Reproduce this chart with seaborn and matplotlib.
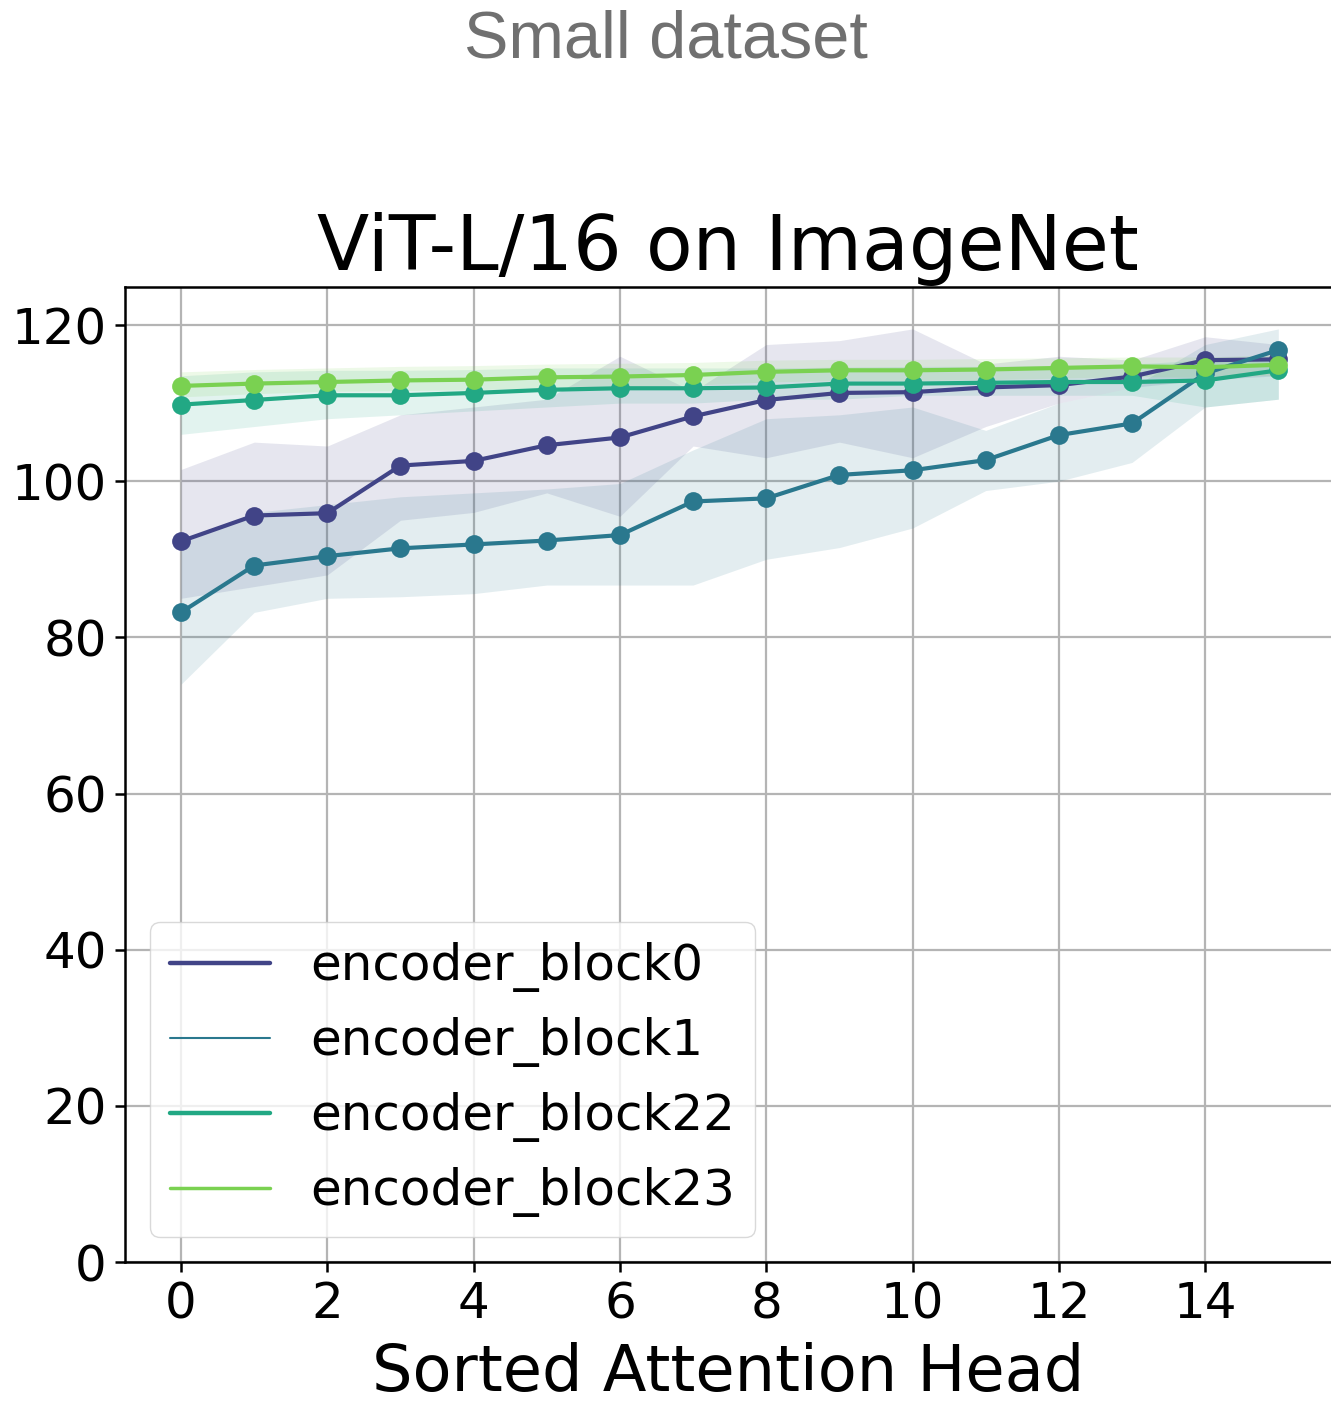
import numpy as np
import pandas as pd
import matplotlib
matplotlib.use("Agg")
import matplotlib.pyplot as plt
from matplotlib.lines import Line2D
import seaborn as sns

heads = list(range(16))
series_names = ["encoder_block0", "encoder_block1", "encoder_block22", "encoder_block23"]

block0_mean = [92.3, 95.6, 95.9, 102.0, 102.6, 104.6, 105.6, 108.3, 110.4, 111.3, 111.4, 112.0, 112.3, 113.4, 115.5, 115.6]
block0_low = [85.0, 86.5, 88.0, 95.0, 96.0, 98.5, 95.5, 104.5, 103.0, 105.0, 103.0, 107.0, 110.0, 112.0, 113.0, 113.5]
block0_high = [101.5, 105.0, 104.5, 108.5, 109.5, 110.5, 116.0, 111.5, 117.5, 118.0, 119.5, 115.0, 116.0, 115.5, 118.5, 117.5]

block1_mean = [83.2, 89.2, 90.4, 91.4, 91.9, 92.4, 93.1, 97.4, 97.8, 100.8, 101.4, 102.7, 105.9, 107.4, 113.8, 116.8]
block1_low = [74.0, 83.2, 85.0, 85.2, 85.6, 86.7, 86.7, 86.7, 90.0, 91.5, 94.0, 98.8, 100.0, 102.4, 109.5, 110.5]
block1_high = [92.0, 96.0, 97.0, 98.0, 98.5, 99.0, 99.7, 104.0, 108.0, 108.5, 109.5, 106.5, 110.0, 112.0, 117.5, 119.5]

block22_mean = [109.8, 110.4, 111.0, 111.0, 111.3, 111.7, 111.9, 111.9, 112.0, 112.5, 112.5, 112.6, 112.7, 112.7, 112.9, 114.2]
block22_low = [106.0, 107.0, 108.0, 108.5, 109.0, 109.5, 110.0, 110.0, 110.5, 110.5, 111.0, 111.0, 111.0, 111.0, 109.5, 110.5]
block22_high = [113.5, 114.0, 114.2, 114.2, 114.3, 114.5, 114.5, 114.5, 114.5, 114.6, 114.7, 114.7, 114.8, 115.0, 115.5, 116.0]

block23_mean = [112.2, 112.5, 112.7, 112.9, 113.0, 113.3, 113.4, 113.6, 114.0, 114.2, 114.2, 114.3, 114.5, 114.7, 114.6, 114.9]
block23_low = [110.8, 111.2, 111.5, 111.6, 111.7, 112.0, 112.1, 112.3, 112.7, 112.9, 112.9, 113.0, 113.2, 113.4, 113.3, 113.6]
block23_high = [114.0, 114.3, 114.5, 114.7, 114.8, 115.0, 115.1, 115.2, 115.5, 115.6, 115.6, 115.7, 115.8, 115.9, 115.9, 116.2]

means = [block0_mean, block1_mean, block22_mean, block23_mean]
lows = [block0_low, block1_low, block22_low, block23_low]
highs = [block0_high, block1_high, block22_high, block23_high]

colors = sns.color_palette("viridis", 4)

sns.set_style("white")
plt.rcParams["font.family"] = ["DejaVu Sans"]
plt.rcParams["text.color"] = "black"
plt.rcParams["axes.labelcolor"] = "black"

fig = plt.figure(figsize=(13.31, 14.04), dpi=100)
ax = fig.add_axes([0.0939, 0.1011, 0.9061, 0.6945])

df = pd.DataFrame({
    "head": heads * 4,
    "value": sum(means, []),
    "block": sum([[n] * 16 for n in series_names], []),
})

for lo, hi, c in zip(lows, highs, colors):
    ax.fill_between(heads, lo, hi, color=c, alpha=0.13, linewidth=0, zorder=2)

sns.lineplot(data=df, x="head", y="value", hue="block", palette=colors,
             marker="o", markersize=13.5, markeredgewidth=0, linewidth=3.0,
             legend=False, ax=ax, zorder=3)

ax.set_xlim(-0.766, 15.72)
ax.set_ylim(0, 124.87)
ax.set_xticks(range(0, 15, 2))
ax.set_yticks(range(0, 121, 20))
ax.grid(True, color="#b4b4b4", linewidth=1.6)
ax.set_axisbelow(True)

for s in ["left", "bottom", "top"]:
    ax.spines[s].set_color("black")
    ax.spines[s].set_linewidth(1.8)
ax.spines["right"].set_visible(False)
ax.tick_params(axis="both", direction="out", length=7, width=1.8,
               labelsize=36, colors="black", pad=6, left=True, bottom=True)

ax.set_xlabel("Sorted Attention Head", fontsize=46, labelpad=10, color="black")
ax.set_ylabel("")
ax.set_title("ViT-L/16 on ImageNet", fontsize=55, pad=12, color="black")

widths = [3.2, 1.5, 3.2, 2.5]
handles = [Line2D([0], [0], color=c, lw=w) for c, w in zip(colors, widths)]
leg = ax.legend(handles, series_names, loc="lower left", fontsize=36,
                frameon=True, fancybox=True, framealpha=0.8, edgecolor="#d0d0d0",
                handlelength=2.0, handletextpad=0.8, labelspacing=0.5,
                borderaxespad=0.5, borderpad=0.4)
for t in leg.get_texts():
    t.set_color("black")

fig.text(0.5, 0.993, "Small dataset", ha="center", va="top",
         fontsize=48, color="#707070", family=["Liberation Sans", "DejaVu Sans"])

fig.savefig("out.png", dpi=100)
